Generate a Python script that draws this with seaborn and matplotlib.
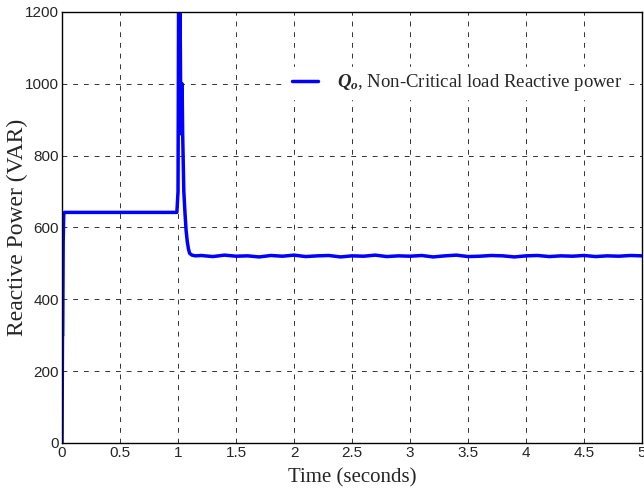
import numpy as np
import pandas as pd
import matplotlib
matplotlib.use('Agg')
import matplotlib.pyplot as plt
import seaborn as sns

# time (s) and non-critical load reactive power (VAR)
time = [0.0, 0.002, 0.004, 0.006, 0.01, 0.015, 0.02, 0.5, 0.99, 1.0,
        1.005, 1.01, 1.015, 1.02, 1.025, 1.03, 1.035, 1.04, 1.045, 1.05,
        1.06, 1.07, 1.08, 1.09, 1.1, 1.12, 1.15,
        1.2, 1.3, 1.4, 1.5, 1.6, 1.7, 1.8, 1.9, 2.0, 2.1, 2.2, 2.3, 2.4,
        2.5, 2.6, 2.7, 2.8, 2.9, 3.0, 3.1, 3.2, 3.3, 3.4, 3.5, 3.6, 3.7,
        3.8, 3.9, 4.0, 4.1, 4.2, 4.3, 4.4, 4.5, 4.6, 4.7, 4.8, 4.9, 5.0]
q_load = [0, 150, 300, 300, 560, 640, 642, 642, 642, 700,
          1250, 950, 1250, 1100, 870, 860, 1000, 860, 780, 700,
          640, 590, 560, 540, 528, 523, 521,
          522, 519, 523, 520, 521, 518, 522, 520, 523, 519, 521, 522, 518,
          521, 520, 523, 519, 521, 520, 522, 518, 521, 523, 519, 520, 522,
          521, 518, 521, 522, 519, 521, 520, 522, 519, 521, 520, 522, 521]

df = pd.DataFrame({'t': time, 'q': q_load})

sns.set_style('white')
plt.rcParams['font.family'] = ['Liberation Sans', 'DejaVu Sans']
# bold italic Q for the legend
plt.rcParams['mathtext.fontset'] = 'custom'
plt.rcParams['mathtext.it'] = 'Liberation Serif:italic:bold'
plt.rcParams['mathtext.rm'] = 'Liberation Serif:bold'

fig = plt.figure(figsize=(6.44, 4.97), dpi=100)
ax = fig.add_axes([0.0963, 0.1087, 0.9007, 0.8672])

sns.lineplot(data=df, x='t', y='q', ax=ax, color='#0000ff', linewidth=2.5,
             label=r'$Q_o$, Non-Critical load Reactive power')

ax.set_xlim(0, 5)
ax.set_ylim(0, 1200)
ax.set_xticks(np.arange(0, 5.01, 0.5))
ax.set_xticklabels(['0', '0.5', '1', '1.5', '2', '2.5', '3', '3.5', '4', '4.5', '5'])
ax.set_yticks(range(0, 1201, 200))
ax.tick_params(direction='in', labelsize=11, length=4, pad=2, color='black')
ax.grid(True, color='black', linestyle=(0, (5, 6)), linewidth=0.7, alpha=0.8)
for s in ax.spines.values():
    s.set_color('black')
    s.set_linewidth(1.0)

ax.set_xlabel('Time (seconds)', fontsize=15, family=['Liberation Serif'], labelpad=6)
ax.set_ylabel('Reactive Power (VAR)', fontsize=17, family=['Liberation Serif'])
ax.yaxis.set_label_coords(-0.058, 0.5)

leg = ax.legend(loc='upper left', bbox_to_anchor=(0.37, 0.895), frameon=True,
                facecolor='white', edgecolor='white', framealpha=1,
                fancybox=False, borderpad=0.3,
                prop={'family': 'Liberation Serif', 'size': 13.5},
                handlelength=1.4, handletextpad=1.0)

fig.savefig('out.png', dpi=100)
